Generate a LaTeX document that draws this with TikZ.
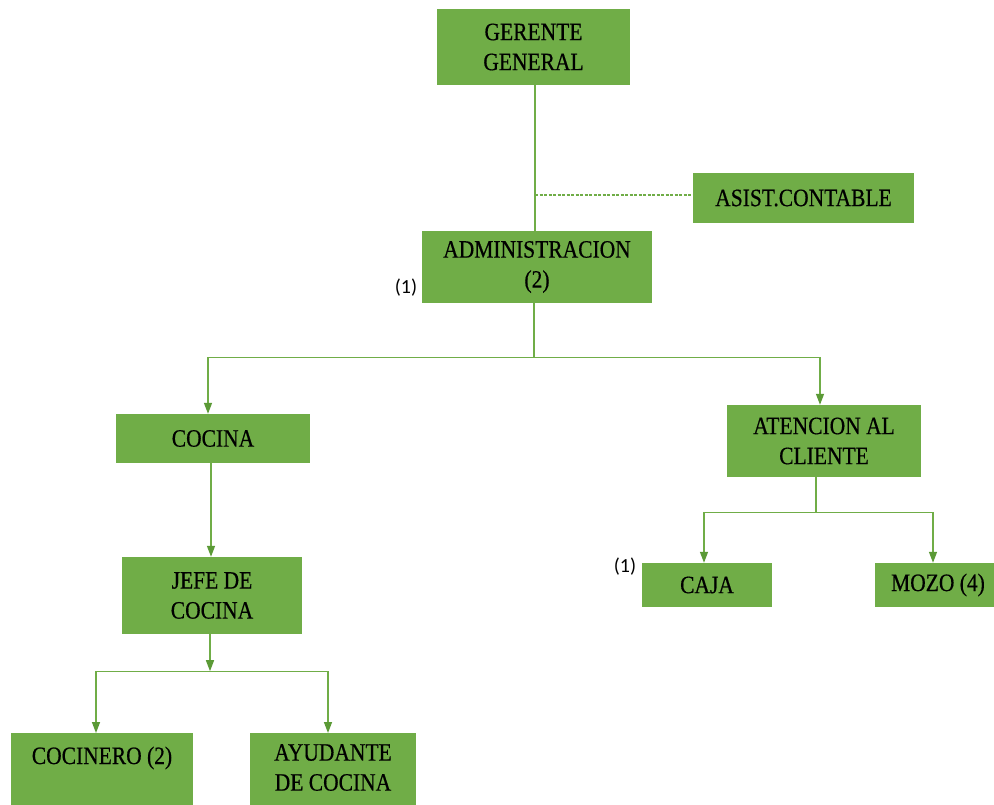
\documentclass[tikz,border=0pt]{standalone}
\usepackage{fontspec}
\newfontfamily\boxfont{Liberation Serif}[FakeStretch=0.86,FakeBold=0.5]
\newfontfamily\numfont{Carlito}
\usetikzlibrary{arrows.meta}
\definecolor{boxgreen}{HTML}{70AD47}
\definecolor{linegreen}{HTML}{70AD47}
\definecolor{tipgreen}{HTML}{5B9A36}
\begin{document}
\begin{tikzpicture}[x=1pt,y=-1pt,
 box/.style={fill=boxgreen, draw=none, inner sep=0pt, align=center, font=\boxfont\fontsize{25}{30}\selectfont, text=black},
 txt/.style={inner sep=0pt, align=center, font=\boxfont\fontsize{25}{30}\selectfont, text=black},
 conn/.style={draw=linegreen, line width=1.4pt},
 arr/.style={conn, -{Triangle[width=8pt,length=11pt,color=tipgreen]}},
 dashconn/.style={draw=linegreen, line width=1.3pt, dash pattern=on 3pt off 1.5pt},
 note/.style={inner sep=0pt, font=\numfont\fontsize{20}{22}\selectfont, text=black}]
\clip (0,0) rectangle (994,805);
\fill[white] (0,0) rectangle (994,805);

\node[box, minimum width=193, minimum height=76] (gerente) at (533.5,47) {GERENTE\\GENERAL};
\node[box, minimum width=221, minimum height=50] (asist) at (803.5,198) {ASIST.CONTABLE};
\node[box, minimum width=230, minimum height=72] (admin) at (537,267) {ADMINISTRACION\\(2)};
\node[box, minimum width=194, minimum height=49] (cocina) at (213,438.5) {COCINA};
\node[box, minimum width=194, minimum height=72] (atencion) at (824,441) {ATENCION AL\\CLIENTE};
\node[box, minimum width=180, minimum height=77] (jefe) at (212,595.5) {JEFE DE\\COCINA};
\node[box, minimum width=130, minimum height=44] (caja) at (707,585) {CAJA};
\node[box, minimum width=126, minimum height=44] (mozo) at (938,585) {MOZO (4)};
\node[box, minimum width=182, minimum height=90, anchor=north] (cocinero) at (102,733) {};
\node[txt] (cocinerot) at (102,758) {COCINERO (2)};
\node[box, minimum width=166, minimum height=90, anchor=north] (ayudante) at (333,733) {};
\node[txt] (ayudantet) at (333,767.5) {AYUDANTE\\DE COCINA};

\node[note] (n1) at (406,288) {(1)};
\node[note] (n2) at (625,567) {(1)};

\draw[conn] ([xshift=1.5pt]gerente.south) -- ([xshift=1.5pt]gerente.south |- admin.north);
\coordinate (g1) at ([xshift=1.5pt,yshift=3pt]gerente.south |- asist.west);
\draw[dashconn] (g1) -- (g1 -| asist.west);

\draw[conn] ([xshift=-3pt]admin.south) -- ++(0,54) coordinate (a1);
\draw[arr] (a1) -| ([xshift=-5pt]cocina.north);
\draw[arr] (a1) -| ([xshift=-4pt]atencion.north);

\draw[arr] ([xshift=-2pt]cocina.south) -- ([xshift=-1pt]jefe.north);
\draw[arr] ([xshift=-2pt]jefe.south) -- ++(0,37) coordinate (j1);
\draw[arr] (j1) -| ([xshift=-6pt]cocinero.north);
\draw[arr] (j1) -| ([xshift=-5pt]ayudante.north);

\draw[conn] ([xshift=-8pt]atencion.south) -- ++(0,35) coordinate (c1);
\draw[arr] (c1) -| ([xshift=-3pt]caja.north);
\draw[arr] (c1) -| ([xshift=-5pt]mozo.north);
\end{tikzpicture}
\end{document}
